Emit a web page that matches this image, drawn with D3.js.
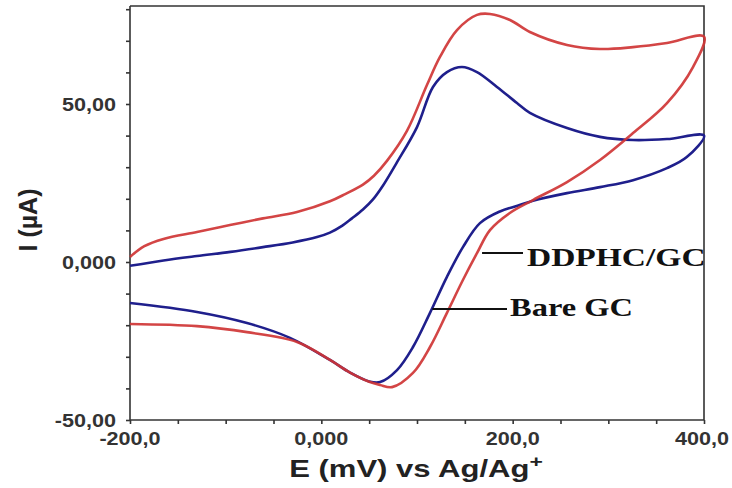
<!DOCTYPE html>
<html><head><meta charset="utf-8">
<script src="https://cdn.jsdelivr.net/npm/d3@7"></script>
<style>body{margin:0;background:#fff}</style></head>
<body><svg id="c" width="732" height="488"></svg>
<script>
// ---- data (E in mV, I in µA) ----
const bareFwdE = [-200,-165,-130,-95,-61,-30,-4.5,9,22,32,43.5,54,64.5,79,100,116.7,131.3,147,162.7,183.6,204.5,218,256.8,291.3,325.8,361.3,400];
const bareFwdI = [-1.2,0.5,1.9,3.2,4.7,6.2,7.9,9.3,11.5,13.8,16.6,19.8,24.2,31.5,42.7,55.4,60.1,61.7,60.1,55.4,50.3,47.2,42.4,39.6,38.6,38.9,40];
const bareRevE = [382,361.3,325.8,291.3,256.8,221.2,205,186.7,165.8,148,131.3,113.6,95.8,79.1,61.4,50,30,9,-32.8,-77.7,-130,-200];
const bareRevI = [33.2,29.7,25.9,23.7,21.8,19.4,17.8,16,12.3,4.7,-4.7,-16.1,-26.9,-34.2,-38,-37.8,-35,-31,-24,-19.3,-15.8,-13];

const ddFwdE = [-200,-185,-165,-130,-95.5,-61,-25.4,9,25,43.5,55,68.6,89.5,110.4,124,141.8,162.7,176.3,197.2,218,256.8,291.3,325.8,361.3,400];
const ddFwdI = [1.6,5,7.3,9.5,11.7,13.8,15.8,19.2,21.5,24.5,27.3,32,41.5,56,64.9,73.4,78.2,78.5,76.6,72.8,68.7,67.4,68,69.3,71.3];
const ddRevE = [388.5,361.3,325.8,291.3,256.8,221.2,197,176.3,162.7,148,131.3,113.6,95.8,73.9,61.4,50,30,9,-25.4,-77.7,-130,-200];
const ddRevI = [61.7,50.3,40.8,32.3,25.3,19.6,15.5,10.1,2.8,-5.7,-16.1,-26.9,-35.1,-39.6,-38.9,-37.9,-35,-31,-25.3,-22.2,-20.3,-19.6];

const xTickValues = [-200,0,200,400];
const xTickLabels = ["-200,0","0,000","200,0","400,0"];
const yTickValues = [-50,0,50];
const yTickLabels = ["-50,00","0,000","50,00"];
const seriesNames = ["DDPHC/GC","Bare GC"];

// ---- scales ----
const svg = d3.select("#c");
const x = d3.scaleLinear().domain([-200,400]).range([130,704]);
const y = d3.scaleLinear().domain([-50,50]).range([420,104]);
const yTop = y.invert(6);

const axisColor = "#333";
svg.append("g").attr("transform","translate(0,420)")
  .call(d3.axisBottom(x).tickValues(d3.range(-200,401,50)).tickSize(4).tickFormat(""))
  .call(g=>g.selectAll("line,path").attr("stroke",axisColor).attr("stroke-width",1.6))
  .call(g=>g.select(".domain").attr("d","M130,0H704"));
svg.append("g").attr("transform","translate(130,0)")
  .call(d3.axisLeft(y).tickValues(d3.range(-50,81,10)).tickSize(4).tickFormat(""))
  .call(g=>g.selectAll("line,path").attr("stroke",axisColor).attr("stroke-width",1.6))
  .call(g=>g.select(".domain").attr("d","M0,"+y(yTop)+"V420"));
svg.append("path").attr("d",`M${x(-200)},${y(yTop)}H${x(400)}V${y(-50)}`)
  .attr("fill","none").attr("stroke",axisColor).attr("stroke-width",1.6);

function stretchText(px,py,str,opts){
  return svg.append("text")
    .attr("transform",`translate(${px},${py}) ${opts.rot?"rotate("+opts.rot+")":""} scale(${opts.sx||1},1)`)
    .attr("text-anchor",opts.anchor||"middle")
    .attr("font-family",opts.family||"'Liberation Sans', Arial, sans-serif")
    .attr("font-weight","bold")
    .attr("font-size",opts.size)
    .attr("fill",opts.fill||"#333")
    .text(str);
}
yTickValues.forEach((v,i)=>stretchText(116,y(v)+6.5,yTickLabels[i],{anchor:"end",size:18,sx:1.2}));
xTickValues.forEach((v,i)=>stretchText(x(v)-(i===3?2:0),445,xTickLabels[i],{size:18,sx:1.2}));

const xt = stretchText(416,477,"E (mV) vs Ag/Ag",{size:23,sx:1.35,fill:"#222"});
xt.append("tspan").attr("dy",-10).attr("font-size",17).text("+");
stretchText(37,220,"I (µA)",{size:25,rot:-90,fill:"#222"});

const line = d3.line().x(d=>x(d[0])).y(d=>y(d[1])).curve(d3.curveCatmullRom.alpha(0.5));
const bare = bareFwdE.map((e,i)=>[e,bareFwdI[i]]).concat(bareRevE.map((e,i)=>[e,bareRevI[i]]));
const dd = ddFwdE.map((e,i)=>[e,ddFwdI[i]]).concat(ddRevE.map((e,i)=>[e,ddRevI[i]]));
svg.append("path").datum(bare).attr("d",line).attr("fill","none")
  .attr("stroke","#1f1f8c").attr("stroke-width",2.6).attr("stroke-linejoin","round");
svg.append("path").datum(dd).attr("d",line).attr("fill","none")
  .attr("stroke","#cf3535").attr("stroke-width",2.6).attr("stroke-linejoin","round").attr("opacity",0.92);

svg.append("line").attr("x1",x(168)).attr("x2",523).attr("y1",253).attr("y2",253).attr("stroke","#111").attr("stroke-width",2);
svg.append("line").attr("x1",x(116)).attr("x2",507).attr("y1",309).attr("y2",309).attr("stroke","#111").attr("stroke-width",2);
stretchText(527,266,seriesNames[0],{anchor:"start",size:25,sx:1.34,family:"'Liberation Serif','Times New Roman',serif",fill:"#111"});
stretchText(510,316,seriesNames[1],{anchor:"start",size:25,sx:1.3,family:"'Liberation Serif','Times New Roman',serif",fill:"#111"});
</script>
</body></html>
